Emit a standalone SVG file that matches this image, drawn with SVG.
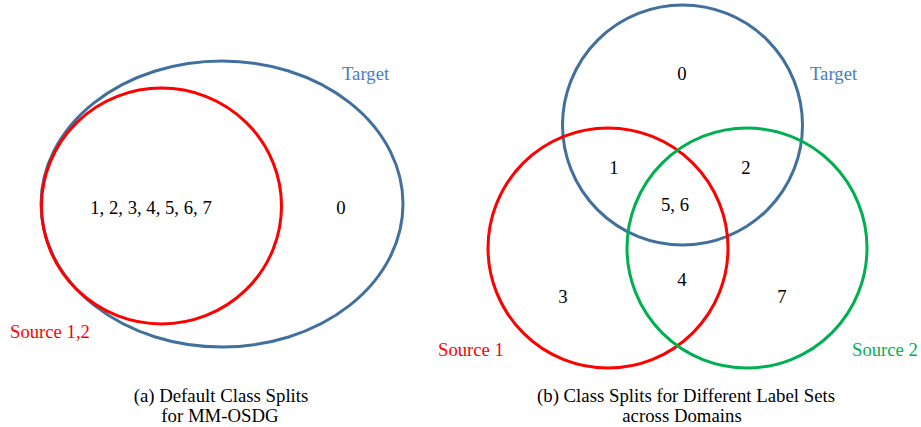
<svg xmlns="http://www.w3.org/2000/svg" width="921" height="427" viewBox="0 0 921 427">
<style>
.c{fill:none;stroke-width:3}
.blue{stroke:#41709c}
.red{stroke:#fe0000}
.green{stroke:#00b050}
text{font-family:"Liberation Serif","Times New Roman",serif;font-size:18.7px;fill:#000}
.tb{fill:#4a7ebb}
.tr{fill:#fe0000}
.tg{fill:#00b050}
.cap{font-size:18.8px;text-anchor:middle}
.m{text-anchor:middle}
</style>
<g id="panel-a">
  <g id="target-a"><ellipse class="c blue" cx="222" cy="204" rx="181" ry="143"/><text class="tb" x="342" y="80">Target</text></g>
  <g id="source12-a"><ellipse class="c red" cx="161.5" cy="206" rx="120" ry="118"/><text class="tr" x="10" y="338">Source 1,2</text></g>
  <g id="region-a-shared"><text class="m" x="151" y="214">1, 2, 3, 4, 5, 6, 7</text></g>
  <g id="region-a-0"><text class="m" x="341" y="214">0</text></g>
  <g id="caption-a"><text class="cap" x="221" y="402">(a) Default Class Splits</text><text class="cap" x="220" y="422">for MM-OSDG</text></g>
</g>
<g id="panel-b">
  <g id="target-b"><circle class="c blue" cx="682.5" cy="125" r="120"/><text class="tb" x="810" y="80">Target</text></g>
  <g id="source1-b"><circle class="c red" cx="608" cy="248" r="120"/><text class="tr" x="438" y="356">Source 1</text></g>
  <g id="source2-b"><circle class="c green" cx="747" cy="248" r="120"/><text class="tg" x="852" y="356">Source 2</text></g>
  <g id="regions-b">
    <text class="m" x="682" y="80">0</text>
    <text class="m" x="614" y="174">1</text>
    <text class="m" x="746" y="174">2</text>
    <text class="m" x="675" y="211">5, 6</text>
    <text class="m" x="682" y="286">4</text>
    <text class="m" x="563" y="303">3</text>
    <text class="m" x="782" y="303">7</text>
  </g>
  <g id="caption-b"><text class="cap" x="686" y="402">(b) Class Splits for Different Label Sets</text><text class="cap" x="682" y="422">across Domains</text></g>
</g>
</svg>
